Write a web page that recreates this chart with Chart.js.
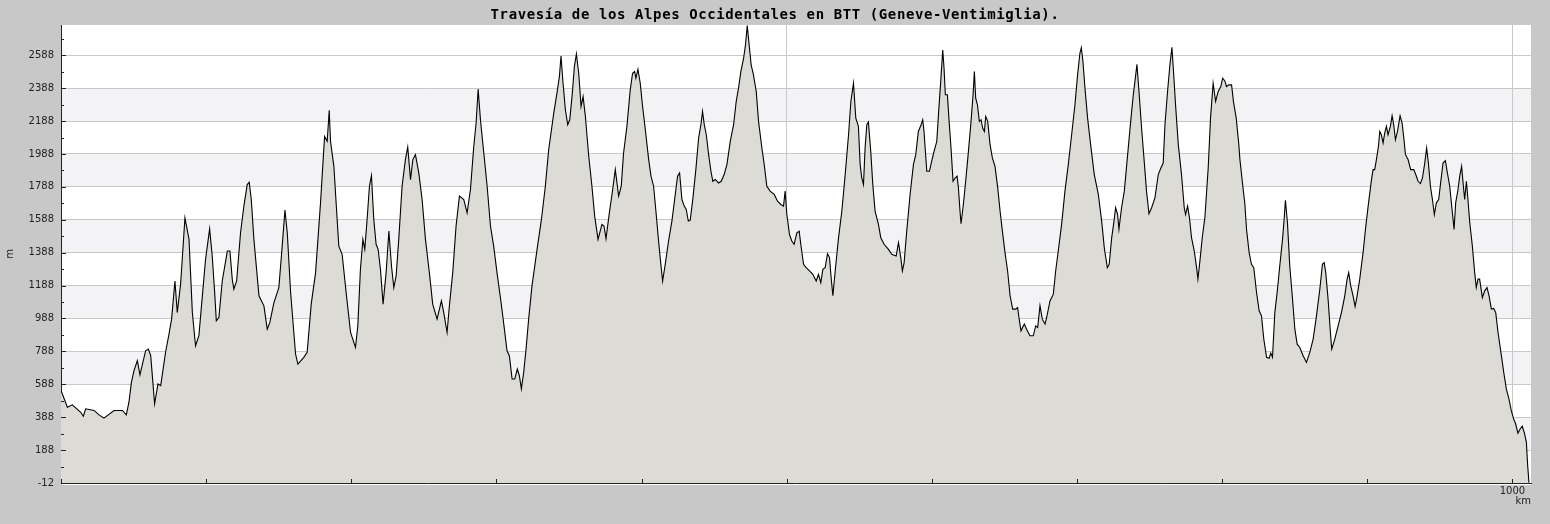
<!DOCTYPE html>
<html lang="es">
<head>
  <meta charset="UTF-8">
  <title>Travesía de los Alpes Occidentales en BTT</title>
  <script src="https://cdn.jsdelivr.net/npm/chart.js"></script>
  <style>
    html, body { margin: 0; padding: 0; background: #c8c8c8; }
    canvas { display: block; }
  </style>
</head>
<body>
  <canvas id="perfil" width="1550" height="524"></canvas>
  <script>
    const titulo = 'Travesía de los Alpes Occidentales en BTT (Geneve-Ventimiglia).';

    // Perfil por tramos: distancia (km) y altitud (m)
    const kmTramo1 = [0, 4.4, 7.8, 13.6, 15.4, 17.0, 22.8, 26.2, 29.6, 36.5,
      42.3, 45.0, 46.8, 48.5, 50.3, 52.6, 54.4, 58.3, 60.2, 61.8,
      64.5, 66.8, 68.7, 72.1, 74.4, 76.2, 78.5, 80.1, 82.4, 85.4,
      88.2, 90.5, 92.7, 95.0, 98.0, 99.6, 102.4, 104.2, 105.8, 107.0,
      108.8, 111.1, 114.6, 116.4, 118.0, 119.1, 121.0, 123.7, 126.0, 128.3,
      129.7, 131.1, 132.9, 136.4, 139.8, 142.1, 143.9, 146.7, 150.1, 152.4,
      154.3, 155.9, 158.2, 161.6, 163.2, 167.3, 169.6, 172.4, 175.4, 178.8,
      181.6, 183.4, 184.8, 185.7, 188.0, 191.4, 193.7, 196.7, 199.5, 202.9,
      204.5];
    const altTramo1 = [550, 449, 463, 418, 394, 439, 429, 402, 382, 429,
      429, 402, 479, 600, 671, 732, 645, 792, 802, 762,
      469, 590, 580, 786, 893, 984, 1216, 1024, 1196, 1600,
      1469, 1024, 822, 883, 1186, 1348, 1533, 1368, 1156, 974,
      994, 1216, 1398, 1398, 1226, 1166, 1216, 1509, 1671, 1802,
      1816, 1711, 1469, 1126, 1065, 923, 964, 1085, 1176, 1428,
      1647, 1509, 1146, 772, 711, 752, 782, 1075, 1267, 1691,
      2095, 2065, 2253, 2065, 1913, 1428, 1378, 1126, 903, 812,
      943];

    const kmTramo2 = [206.3, 208.0, 209.3, 210.9, 212.5, 213.9, 215.5, 217.1, 218.5, 220.1,
      221.9, 224.0, 225.9, 227.7, 229.3, 230.9, 232.7, 235.0, 237.3, 238.9,
      240.8, 242.4, 244.2, 246.5, 248.8, 251.1, 253.8, 256.1, 259.1, 262.1,
      263.7, 266.0, 267.6, 269.9, 272.2, 274.5, 277.5, 279.8, 282.1, 284.4,
      286.0, 287.4, 289.0, 291.3, 293.6, 295.9, 298.1, 300.4, 303.2, 305.5,
      307.3, 308.9, 310.8, 312.6, 314.4, 315.8, 317.2, 318.8, 320.4, 322.2,
      324.5, 328.0, 331.0, 333.7, 336.0, 339.5, 341.7, 343.4, 344.5, 345.7,
      347.5, 349.1, 350.5, 352.1, 353.7, 355.1, 356.7, 358.3, 359.7, 361.3,
      363.6, 365.8, 367.7, 370.0, 372.7, 374.1, 375.5, 377.8, 380.1, 381.9,
      384.2, 386.0, 387.6, 389.9, 392.2, 393.8, 395.2, 396.1, 397.5, 399.1,
      400.7, 402.6, 404.9, 406.5, 408.3];
    const altTramo2 = [1287, 1469, 1408, 1590, 1792, 1857, 1590, 1439, 1408, 1287,
      1075, 1267, 1519, 1307, 1176, 1247, 1469, 1792, 1954, 2030,
      1832, 1954, 1984, 1873, 1711, 1469, 1267, 1075, 984, 1095,
      1024, 903, 1065, 1267, 1550, 1732, 1711, 1630, 1772, 2035,
      2176, 2382, 2196, 1994, 1792, 1550, 1428, 1267, 1085, 923,
      792, 762, 620, 620, 681, 640, 560, 661, 802, 984,
      1186, 1408, 1590, 1792, 2014, 2236, 2358, 2459, 2584, 2439,
      2257, 2166, 2196, 2337, 2519, 2596, 2479, 2277, 2337, 2216,
      1974, 1792, 1610, 1469, 1560, 1550, 1473, 1630, 1772, 1893,
      1732, 1792, 1994, 2156, 2378, 2479, 2489, 2449, 2503, 2418,
      2277, 2135, 1954, 1853, 1792];

    const kmTramo3 = [410.1, 411.7, 413.3, 414.5, 416.3, 418.6, 420.9, 423.2, 424.8, 426.2,
      427.8, 429.4, 430.8, 432.2, 433.5, 435.4, 437.4, 439.3, 440.9, 442.0,
      443.2, 444.6, 446.2, 447.8, 449.1, 450.8, 453.0, 454.9, 456.9, 458.8,
      461.1, 463.4, 465.2, 466.8, 468.4, 470.3, 471.6, 472.8, 473.9, 475.5,
      477.1, 479.0, 480.6, 482.9, 484.5, 486.3, 488.6, 491.4, 493.7, 496.0,
      497.8, 498.9, 500.1, 501.9, 503.5, 505.1, 507.0, 508.6, 509.7, 511.6,
      513.4, 515.7, 518.0, 520.3, 521.9, 523.5, 524.9, 526.5, 528.1, 529.5,
      530.6, 531.8, 533.4, 535.7, 538.0, 540.3, 542.6, 544.2, 546.0, 547.6,
      549.4, 550.6, 551.7, 552.9, 554.0, 555.2, 556.3, 557.9, 559.3, 560.9,
      563.2, 564.8, 567.1, 570.1, 572.4, 575.4, 577.0, 578.6, 579.7, 580.9,
      582.7, 585.0, 587.3, 588.9, 590.7, 592.6, 593.7, 594.6, 596.5, 598.3,
      599.9, 601.5, 603.4, 604.7, 606.1, 607.5, 608.4, 609.3, 610.7];
    const altTramo3 = [1620, 1459, 1317, 1216, 1317, 1459, 1580, 1742, 1853, 1873,
      1711, 1671, 1651, 1580, 1584, 1721, 1893, 2085, 2166, 2247,
      2166, 2105, 1984, 1883, 1822, 1833, 1812, 1822, 1863, 1923,
      2065, 2166, 2307, 2388, 2489, 2570, 2651, 2768, 2671, 2529,
      2469, 2368, 2186, 2024, 1923, 1792, 1762, 1742, 1701, 1681,
      1671, 1762, 1620, 1499, 1459, 1439, 1509, 1519, 1439, 1317,
      1297, 1277, 1257, 1216, 1257, 1206, 1287, 1297, 1382, 1358,
      1237, 1126, 1277, 1479, 1641, 1863, 2105, 2307, 2418, 2206,
      2156, 1923, 1842, 1802, 2024, 2166, 2182, 2004, 1802, 1641,
      1560, 1479, 1439, 1408, 1378, 1368, 1449, 1358, 1277, 1328,
      1519, 1742, 1923, 1984, 2125, 2166, 2196, 2125, 1883, 1883,
      1944, 2004, 2065, 2247, 2428, 2620, 2509, 2348, 2348];

    const kmTramo4 = [611.9, 613.2, 614.6, 616.0, 617.4, 618.3, 619.4, 620.1, 621.7, 623.3,
      625.2, 627.0, 628.4, 629.3, 630.2, 631.4, 632.7, 633.9, 635.0, 636.2,
      637.1, 638.5, 640.1, 641.7, 643.5, 645.4, 647.0, 648.6, 650.4, 652.2,
      653.9, 655.7, 657.8, 659.1, 660.0, 661.4, 663.7, 665.3, 667.6, 669.9,
      671.5, 672.9, 674.5, 676.1, 678.0, 679.1, 681.4, 683.7, 685.3, 687.1,
      689.4, 691.7, 694.0, 696.3, 698.6, 700.4, 702.0, 703.0, 704.1, 705.5,
      707.3, 709.4, 711.9, 714.7, 717.0, 718.8, 720.9, 722.2, 723.9, 725.5,
      726.6, 728.0, 728.9, 730.7, 732.6, 734.9, 737.2, 738.8, 739.9, 741.3,
      742.7, 744.5, 746.3, 747.9, 749.6, 751.4, 753.7, 756.0, 757.8, 759.4,
      760.6, 762.4, 764.0, 765.4, 766.5, 767.9, 769.8, 772.0, 773.9, 774.8,
      776.2, 777.5, 778.9, 780.8, 782.4, 783.3, 784.7, 786.3, 788.1, 790.4,
      792.0, 793.8, 795.5, 797.3, 799.1, 800.3, 801.9, 803.0, 804.6, 806.5,
      807.8, 809.7, 811.5];
    const altTramo4 = [2186, 2024, 1822, 1842, 1853, 1782, 1641, 1564, 1681, 1822,
      2004, 2186, 2348, 2489, 2327, 2287, 2186, 2196, 2146, 2125,
      2216, 2186, 2045, 1964, 1913, 1782, 1641, 1519, 1388, 1277,
      1126, 1045, 1045, 1055, 994, 913, 954, 923, 883, 883,
      943, 933, 1065, 984, 954, 994, 1095, 1136, 1277, 1398,
      1560, 1762, 1923, 2105, 2287, 2469, 2600, 2634, 2550, 2388,
      2206, 2045, 1863, 1742, 1580, 1418, 1297, 1317, 1479, 1580,
      1661, 1620, 1530, 1661, 1762, 1984, 2206, 2348, 2428, 2533,
      2368, 2146, 1944, 1762, 1625, 1661, 1721, 1863, 1903, 1933,
      2166, 2368, 2529, 2636, 2489, 2287, 2045, 1863, 1661, 1620,
      1671, 1600, 1479, 1398, 1297, 1227, 1338, 1479, 1600, 1903,
      2206, 2418, 2307, 2368, 2398, 2449, 2432, 2398, 2408, 2408,
      2307, 2206, 2045];

    const kmTramo5 = [812.2, 814.5, 815.6, 816.8, 818.6, 820.2, 821.8, 823.7, 825.5, 827.1,
      828.7, 830.6, 832.4, 833.5, 834.7, 836.3, 837.9, 839.7, 841.6, 842.7,
      843.6, 845.0, 846.6, 848.5, 850.1, 851.7, 853.5, 855.8, 858.1, 860.4,
      862.7, 865.0, 867.3, 869.1, 870.3, 871.4, 873.0, 874.6, 875.5, 877.6,
      879.9, 882.2, 884.5, 886.1, 887.2, 888.6, 890.2, 891.6, 893.0, 894.8,
      897.1, 899.0, 900.6, 902.9, 904.0, 905.1, 906.3, 907.7, 908.6, 909.7,
      910.9, 912.0, 913.2, 914.3, 915.9, 917.1, 918.2, 919.4, 920.8, 922.6,
      924.0, 925.3, 926.3, 928.1, 929.9, 932.0, 933.4, 935.0, 936.6, 938.0,
      939.6, 940.9, 942.1, 943.5, 944.9, 946.2, 947.6, 949.2, 950.8, 952.2,
      953.8, 955.2, 956.8, 958.4, 959.8, 960.9, 962.5, 963.7, 965.0, 966.0,
      967.1, 968.3, 969.2, 970.6, 972.4, 974.0, 975.1, 976.3, 977.4, 979.3,
      980.9, 982.5, 983.9, 985.5, 987.1, 988.5, 990.1, 992.4, 994.0, 995.8,
      997.6, 999.2, 1000.8, 1002.2, 1003.8, 1005.4, 1006.8, 1008.4, 1009.6, 1010.5,
      1011.4];
    const altTramo5 = [1958, 1772, 1691, 1530, 1388, 1317, 1297, 1146, 1035, 1004,
      863, 752, 746, 778, 752, 1024, 1146, 1307, 1469, 1590,
      1707, 1570, 1307, 1105, 923, 832, 812, 762, 721, 782,
      863, 1004, 1166, 1317, 1327, 1267, 1105, 903, 802, 863,
      943, 1024, 1126, 1227, 1267, 1186, 1126, 1061, 1126, 1227,
      1388, 1550, 1671, 1832, 1893, 1893, 1954, 2035, 2125, 2105,
      2055, 2115, 2156, 2105, 2156, 2220, 2166, 2075, 2125, 2220,
      2176, 2075, 1984, 1954, 1893, 1893, 1863, 1822, 1808, 1842,
      1933, 2024, 1933, 1792, 1711, 1620, 1691, 1711, 1832, 1933,
      1947, 1873, 1792, 1651, 1529, 1691, 1772, 1853, 1913, 1812,
      1711, 1822, 1731, 1570, 1428, 1267, 1176, 1227, 1227, 1115,
      1156, 1176, 1126, 1045, 1049, 1024, 903, 762, 661, 560,
      499, 429, 378, 348, 291, 318, 333, 287, 237, 96,
      -10];

    // Ejes
    const yTicks = [-12, 188, 388, 588, 788, 988, 1188, 1388, 1588, 1788, 1988, 2188, 2388, 2588];
    const xTicks = [0, 100, 200, 300, 400, 500, 600, 700, 800, 900, 1000];
    const xTickLabels = ['', '', '', '', '', '', '', '', '', '', '1000'];
    const yMin = -12, yMax = 2772, xMax = 1012.8;

    const kms = [].concat(kmTramo1, kmTramo2, kmTramo3, kmTramo4, kmTramo5);
    const alts = [].concat(altTramo1, altTramo2, altTramo3, altTramo4, altTramo5);
    if (kms.length !== alts.length) console.error('km/alt no cuadran', kms.length, alts.length);
    const puntos = kms.map((k, i) => ({ x: k, y: alts[i] }));

    const fuenteEje = { family: 'DejaVu Sans', size: 10 };

    // fondo gris, bandas alternas, titulo y marcas hacia dentro
    const decoracion = {
      id: 'decoracion',
      beforeDraw(chart) {
        const { ctx, chartArea: a, scales: { y } } = chart;
        ctx.save();
        ctx.fillStyle = '#c8c8c8';
        ctx.fillRect(0, 0, chart.width, chart.height);
        ctx.fillStyle = '#ffffff';
        ctx.fillRect(a.left, a.top, a.right - a.left, a.bottom - a.top);
        ctx.fillStyle = '#f3f2f5';
        for (let i = 1; i + 1 < yTicks.length; i += 2) {
          const y0 = y.getPixelForValue(yTicks[i]);
          const y1 = y.getPixelForValue(yTicks[i + 1]);
          ctx.fillRect(a.left, y1, a.right - a.left, y0 - y1);
        }
        ctx.fillStyle = '#000';
        ctx.font = 'bold 14px "DejaVu Sans Mono"';
        if ('letterSpacing' in ctx) ctx.letterSpacing = '0.6px';
        ctx.textAlign = 'center';
        ctx.textBaseline = 'alphabetic';
        ctx.fillText(titulo, chart.width / 2, 19);
        ctx.restore();
      },
      afterDraw(chart) {
        const { ctx, chartArea: a, scales: { x, y } } = chart;
        ctx.save();
        ctx.strokeStyle = '#222';
        ctx.lineWidth = 1;
        ctx.beginPath();
        yTicks.forEach(v => {
          const py = Math.round(y.getPixelForValue(v)) + 0.5;
          ctx.moveTo(a.left, py);
          ctx.lineTo(a.left + 5, py);
          const m = v + 100;
          if (m < yMax) {
            const pm = Math.round(y.getPixelForValue(m)) + 0.5;
            ctx.moveTo(a.left, pm);
            ctx.lineTo(a.left + 3, pm);
          }
        });
        xTicks.forEach(v => {
          const px = Math.round(x.getPixelForValue(v)) + 0.5;
          ctx.moveTo(px, a.bottom);
          ctx.lineTo(px, a.bottom - 4);
        });
        ctx.stroke();
        ctx.strokeStyle = '#ffffff';
        ctx.beginPath();
        ctx.moveTo(a.left + 1, Math.round(a.bottom) + 1.5);
        ctx.lineTo(a.right, Math.round(a.bottom) + 1.5);
        ctx.stroke();
        ctx.restore();
      }
    };

    new Chart(document.getElementById('perfil'), {
      type: 'line',
      data: {
        datasets: [{
          data: puntos,
          fill: 'start',
          backgroundColor: '#dcdbd6',
          borderColor: '#000000',
          borderWidth: 1.1,
          pointRadius: 0,
          tension: 0
        }]
      },
      options: {
        responsive: false,
        animation: false,
        events: [],
        layout: { padding: { top: 25, right: 19, left: 0, bottom: 0 } },
        plugins: {
          legend: { display: false },
          title: { display: false },
          tooltip: { enabled: false }
        },
        scales: {
          x: {
            type: 'linear',
            min: 0,
            max: xMax,
            afterBuildTicks: s => { s.ticks = xTicks.map(v => ({ value: v })); },
            afterFit: s => { s.height = 41; },
            ticks: {
              autoSkip: false,
              maxRotation: 0,
              padding: 2,
              color: '#222',
              font: fuenteEje,
              callback: (v, i) => xTickLabels[i]
            },
            grid: {
              drawTicks: false,
              color: c => (c.tick && c.tick.value > 0 && c.tick.value % 500 === 0) ? '#c8c8c8' : 'rgba(0,0,0,0)'
            },
            border: { color: '#222', width: 1 },
            title: {
              display: true,
              text: 'km',
              align: 'end',
              color: '#222',
              font: fuenteEje,
              padding: { top: 0, bottom: 17 }
            }
          },
          y: {
            min: yMin,
            max: yMax,
            afterBuildTicks: s => { s.ticks = yTicks.map(v => ({ value: v })); },
            afterFit: s => { s.width = 61; },
            ticks: {
              padding: 7,
              color: '#222',
              font: fuenteEje,
              callback: v => String(v)
            },
            grid: { drawTicks: false, color: '#c8c8c8' },
            border: { color: '#222', width: 1 },
            title: {
              display: true,
              text: 'm',
              color: '#222',
              font: fuenteEje,
              padding: { top: 4, bottom: 0 }
            }
          }
        }
      },
      plugins: [decoracion]
    });
  </script>
</body>
</html>
